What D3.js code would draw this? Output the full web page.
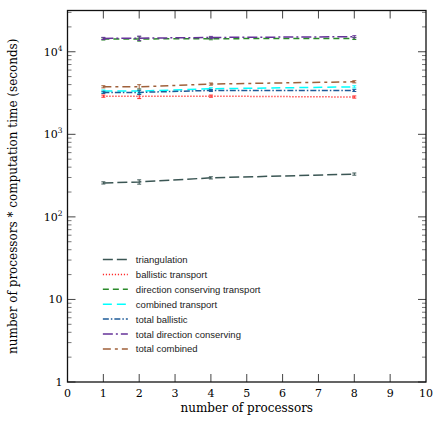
<!DOCTYPE html>
<head>
  <script src="https://d3js.org/d3.v7.min.js"></script>
  <style>
    body { margin: 0; background: #fff; }
    .tick-label { font-family: "DejaVu Serif", serif; font-size: 11px; fill: #000; }
    .axis-title { font-family: "DejaVu Serif", serif; font-size: 12px; fill: #000; }
    .legend text { font-family: "Liberation Sans", Arial, sans-serif; font-size: 9.5px; fill: #222; }
  </style>
</head>
<body>
  <svg width="436" height="436"></svg>
  <script>
    // data
    var procs = [1, 2, 4, 8];
    var triangulation = [258, 265, 297, 330];
    var ballistic = [2900, 2880, 2900, 2830];
    var dirConserving = [14300, 14300, 14400, 14500];
    var combined = [3340, 3340, 3560, 3760];
    var totalBallistic = [3220, 3220, 3400, 3400];
    var totalDirConserving = [14500, 14600, 14900, 15200];
    var totalCombined = [3765, 3765, 4060, 4330];
    var errFrac = [0.03, 0.06, 0.03, 0.03];
    var xTicks = d3.range(0, 11);
    var yTicks = [1, 10, 100, 1000, 10000];

    var series = [
      {name: "triangulation", v: triangulation, color: "#3b5654", dash: "10,4"},
      {name: "ballistic transport", v: ballistic, color: "#ff2a2a", dash: "1.2,1.8"},
      {name: "direction conserving transport", v: dirConserving, color: "#2a8a2a", dash: "6,4"},
      {name: "combined transport", v: combined, color: "#00ffff", dash: "9,5"},
      {name: "total ballistic", v: totalBallistic, color: "#1f5c99", dash: "6,2,1.5,2"},
      {name: "total direction conserving", v: totalDirConserving, color: "#663399", dash: "10,3,2,3"},
      {name: "total combined", v: totalCombined, color: "#a0603a", dash: "8,4,3,4"}
    ];

    var svg = d3.select("svg"),
        margin = {top: 10.5, right: 10, bottom: 54, left: 67.5},
        width = 436 - margin.left - margin.right,
        height = 436 - margin.top - margin.bottom;

    var x = d3.scaleLinear().domain([0, 10]).range([0, width]);
    var y = d3.scaleLog().domain([1, 31600]).range([height, 0]);

    var g = svg.append("g")
        .attr("transform", "translate(" + margin.left + "," + margin.top + ")");

    // minor y ticks (both sides)
    var minor = [];
    for (var e = 0; e < 5; e++) {
      for (var k = 2; k <= 9; k++) {
        var v = k * Math.pow(10, e);
        if (v < 31600) minor.push(v);
      }
    }
    var tickColor = "#444";
    minor.forEach(function(v) {
      g.append("line").attr("x1", 0).attr("x2", 4).attr("y1", y(v)).attr("y2", y(v))
        .attr("stroke", "#777").attr("stroke-width", 1);
      g.append("line").attr("x1", width).attr("x2", width - 4).attr("y1", y(v)).attr("y2", y(v))
        .attr("stroke", "#777").attr("stroke-width", 1);
    });
    yTicks.forEach(function(v) {
      g.append("line").attr("x1", 0).attr("x2", 8).attr("y1", y(v)).attr("y2", y(v))
        .attr("stroke", tickColor).attr("stroke-width", 1);
      g.append("line").attr("x1", width).attr("x2", width - 8).attr("y1", y(v)).attr("y2", y(v))
        .attr("stroke", tickColor).attr("stroke-width", 1);
      var t = g.append("text").attr("class", "tick-label")
        .attr("x", -5).attr("y", y(v) + 4).attr("text-anchor", "end");
      var exp = Math.round(Math.log10(v));
      if (exp <= 1) t.text(v);
      else {
        t.append("tspan").text("10");
        t.append("tspan").attr("dy", -5).attr("font-size", "7.5px").text(exp);
      }
    });
    xTicks.forEach(function(v) {
      if (v > 0 && v < 10) {
        g.append("line").attr("x1", x(v)).attr("x2", x(v)).attr("y1", height).attr("y2", height - 8)
          .attr("stroke", tickColor);
        g.append("line").attr("x1", x(v)).attr("x2", x(v)).attr("y1", 0).attr("y2", 8)
          .attr("stroke", tickColor);
      }
      g.append("text").attr("class", "tick-label")
        .attr("x", x(v)).attr("y", height + 15).attr("text-anchor", "middle").text(v);
    });

    // frame
    g.append("rect").attr("width", width).attr("height", height)
      .attr("fill", "none").attr("stroke", "#111").attr("stroke-width", 1.3);

    var line = d3.line()
        .x(function(d) { return x(d[0]); })
        .y(function(d) { return y(d[1]); });

    series.forEach(function(s) {
      var pts = procs.map(function(p, i) { return [p, s.v[i]]; });
      g.append("path").datum(pts)
        .attr("fill", "none").attr("stroke", s.color).attr("stroke-width", 1.5)
        .attr("stroke-dasharray", s.dash).attr("d", line);
      pts.forEach(function(d, i) {
        var lo = y(d[1] * (1 - errFrac[i])), hi = y(d[1] * (1 + errFrac[i]));
        var cx = x(d[0]);
        g.append("path")
          .attr("d", "M" + cx + "," + lo + "V" + hi + "M" + (cx - 2) + "," + lo + "H" + (cx + 2) + "M" + (cx - 2) + "," + hi + "H" + (cx + 2))
          .attr("fill", "none").attr("stroke", s.color).attr("stroke-width", 1);
      });
    });

    // legend
    var legend = g.append("g").attr("class", "legend")
        .attr("transform", "translate(" + (x(1) - 0.5) + "," + 249 + ")");
    series.forEach(function(s, i) {
      var row = legend.append("g").attr("transform", "translate(0," + (i * 14.9) + ")");
      row.append("line").attr("x1", 0).attr("x2", 25).attr("y1", 0).attr("y2", 0)
        .attr("stroke", s.color).attr("stroke-width", 1.5).attr("stroke-dasharray", s.dash);
      row.append("text").attr("x", 33).attr("y", 3.5).text(s.name);
    });

    // axis titles
    svg.append("text").attr("class", "axis-title")
      .attr("x", margin.left + x(5)).attr("y", 412).attr("text-anchor", "middle")
      .text("number of processors");
    svg.append("text").attr("class", "axis-title")
      .attr("transform", "translate(17," + (margin.top + height / 2) + ") rotate(-90)")
      .attr("text-anchor", "middle")
      .text("number of processors * computation time (seconds)");
  </script>
</body>
</html>
